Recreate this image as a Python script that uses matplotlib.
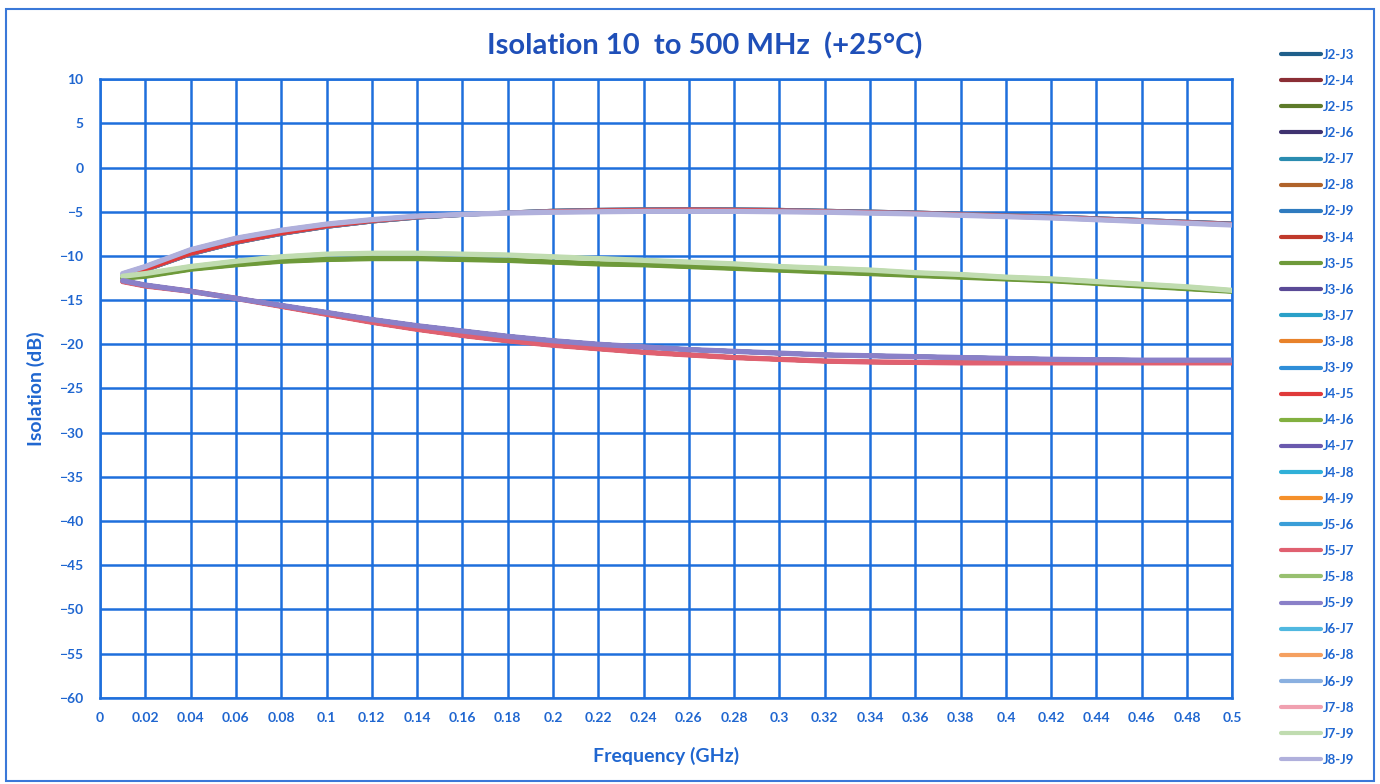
import matplotlib
matplotlib.use("Agg")
import matplotlib.pyplot as plt
from matplotlib.patches import Rectangle

# ---- data ----
freq = [0.01, 0.02, 0.04, 0.06, 0.08, 0.10, 0.12, 0.14, 0.16, 0.18, 0.20, 0.22, 0.24,
        0.26, 0.28, 0.30, 0.32, 0.34, 0.36, 0.38, 0.40, 0.42, 0.44, 0.46, 0.48, 0.50]

upper_a = [-12.2, -11.6, -9.8, -8.5, -7.5, -6.7, -6.1, -5.65, -5.35, -5.1, -4.9, -4.8, -4.75,
           -4.7, -4.75, -4.8, -4.9, -5.0, -5.1, -5.25, -5.4, -5.55, -5.75, -5.95, -6.15, -6.35]
upper_b = [-12.0, -11.2, -9.3, -8.0, -7.1, -6.4, -5.9, -5.5, -5.3, -5.15, -5.05, -5.0, -4.95,
           -4.95, -4.95, -5.0, -5.05, -5.15, -5.25, -5.4, -5.55, -5.7, -5.9, -6.1, -6.3, -6.5]
mid_a = [-12.5, -12.3, -11.5, -11.0, -10.6, -10.4, -10.3, -10.3, -10.4, -10.5, -10.7, -10.9, -11.0,
         -11.2, -11.4, -11.6, -11.8, -12.0, -12.2, -12.4, -12.6, -12.8, -13.1, -13.4, -13.7, -14.0]
mid_b = [-12.3, -12.0, -11.2, -10.6, -10.1, -9.8, -9.7, -9.7, -9.8, -9.9, -10.1, -10.3, -10.5,
         -10.7, -10.9, -11.2, -11.4, -11.6, -11.9, -12.1, -12.4, -12.6, -12.9, -13.2, -13.5, -13.9]
low_a = [-12.8, -13.3, -14.0, -14.8, -15.6, -16.4, -17.2, -17.9, -18.5, -19.1, -19.6, -20.0, -20.3,
         -20.6, -20.8, -21.0, -21.2, -21.3, -21.4, -21.5, -21.6, -21.7, -21.75, -21.8, -21.8, -21.8]
low_b = [-12.9, -13.4, -14.0, -14.8, -15.7, -16.6, -17.5, -18.3, -19.0, -19.6, -20.1, -20.5, -20.9,
         -21.2, -21.5, -21.7, -21.9, -22.0, -22.05, -22.1, -22.1, -22.1, -22.1, -22.1, -22.1, -22.1]

curves = {"ua": upper_a, "ub": upper_b, "ma": mid_a, "mb": mid_b, "la": low_a, "lb": low_b}

series_names = ["J2-J3", "J2-J4", "J2-J5", "J2-J6", "J2-J7", "J2-J8", "J2-J9",
                "J3-J4", "J3-J5", "J3-J6", "J3-J7", "J3-J8", "J3-J9",
                "J4-J5", "J4-J6", "J4-J7", "J4-J8", "J4-J9",
                "J5-J6", "J5-J7", "J5-J8", "J5-J9",
                "J6-J7", "J6-J8", "J6-J9", "J7-J8", "J7-J9", "J8-J9"]
series_curve = ["ua", "lb", "ma", "la", "la", "lb", "la",
                "ua", "ma", "lb", "la", "lb", "la",
                "ua", "ma", "la", "lb", "la",
                "ua", "lb", "mb", "la",
                "ub", "lb", "la", "ub", "mb", "ub"]
series_colors = ["#1F5F8B", "#8B2E35", "#5E7B2A", "#3F3270", "#2A8CB0", "#B0632A", "#2F7BBF",
                 "#C0392B", "#6E9A3A", "#5A4A96", "#2AA0C8", "#E8822A", "#2F8ED8",
                 "#E03A3A", "#82B040", "#6A5AAE", "#30B0D8", "#F5902A",
                 "#3A9ED8", "#E06070", "#98C070", "#8A80C8",
                 "#50B8E0", "#F5A060", "#8AB0E0", "#F0A0B0", "#C0DCB0", "#B0B0DC"]
# series whose traces are visible on top in the picture (drawn in this order)
front_series = ["J4-J5", "J8-J9", "J3-J5", "J7-J9", "J5-J7", "J5-J9"]

xticks = [i * 0.02 for i in range(26)]
yticks = list(range(-60, 11, 5))

# ---- drawing ----
plt.rcParams['font.family'] = ['Lato', 'DejaVu Sans']
blue = "#1E6FDC"
txt = "#1F66D0"

fig = plt.figure(figsize=(13.8, 7.84), dpi=100)
ax = fig.add_axes([0.0725, 0.110, 0.8205, 0.789])

for name, key, col in zip(series_names, series_curve, series_colors):
    if name in front_series:
        z = 4 + front_series.index(name) * 0.1
        lw = 2.4 if name == "J4-J5" else 3.8
    else:
        z = 2
        lw = 3.0
    ax.plot(freq, curves[key], color=col, lw=lw, label=name, solid_capstyle="round", zorder=z)

ax.set_xlim(0, 0.5)
ax.set_ylim(-60, 10)
ax.set_xticks(xticks)
ax.set_xticklabels(["%g" % round(v, 2) for v in xticks])
ax.set_yticks(yticks)
ax.grid(True, color=blue, lw=1.8, zorder=1)
for s in ax.spines.values():
    s.set_color(blue)
    s.set_linewidth(1.8)
ax.tick_params(length=0, pad=10, colors=txt, labelsize=10)
for lab in ax.get_xticklabels() + ax.get_yticklabels():
    lab.set_fontweight("bold")
ax.tick_params(axis="y", pad=12)

ax.set_xlabel("Frequency (GHz)", color=txt, fontsize=14, fontweight="bold", labelpad=17)
ax.set_ylabel("Isolation (dB)", color=txt, fontsize=14, fontweight="bold", labelpad=10)
fig.text(0.511, 0.942, "Isolation 10  to 500 MHz  (+25\u00b0C)", ha="center", va="center",
         color="#1F4FB8", fontsize=21, fontweight="bold")

leg = fig.legend(loc="upper left", bbox_to_anchor=(0.920, 0.953), frameon=False,
                 fontsize=9.5, handlelength=3.0, labelspacing=1.07, handletextpad=0.15,
                 labelcolor=txt)
for t in leg.get_texts():
    t.set_fontweight("bold")
for h in leg.get_lines():
    h.set_linewidth(3)

fig.patches.append(Rectangle((0.004, 0.004), 0.992, 0.985, transform=fig.transFigure,
                             fill=False, edgecolor="#3A78D8", lw=1.5))

fig.savefig("out.png", dpi=100)
